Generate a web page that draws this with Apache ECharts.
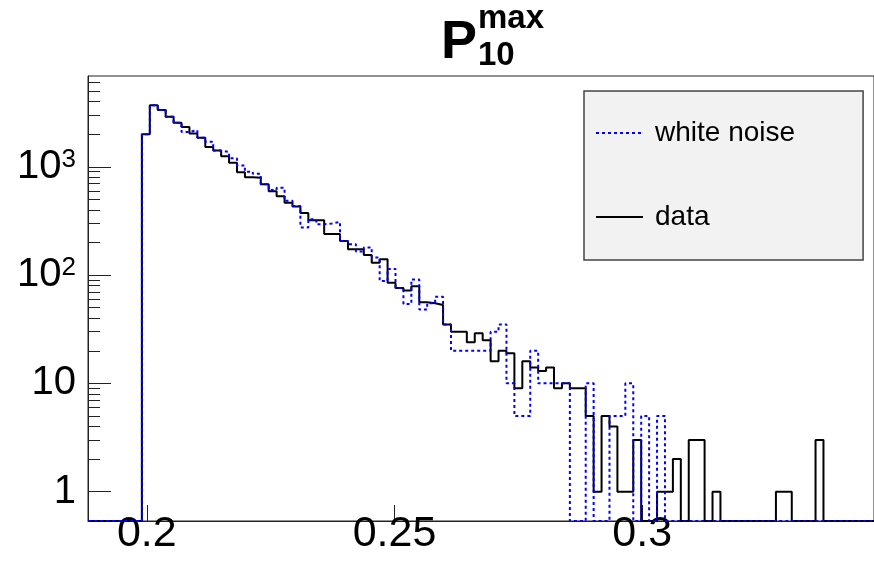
<!DOCTYPE html>
<html><head><meta charset="utf-8">
<script src="https://cdn.jsdelivr.net/npm/echarts@6/dist/echarts.min.js"></script>
<style>html,body{margin:0;padding:0;background:#fff}#c{width:874px;height:565px}</style>
</head><body><div id="c"></div>
<script>
// ---- data ----
const binStart = 0.199;
const binWidth = 0.0016;
const seriesNames = ['white noise', 'data'];
const dataCounts = [
  2000, 3700, 3350, 2900, 2550, 2330, 2030, 1850, 1520, 1410,
  1250, 1090, 890, 800, 790, 690, 595, 535, 465, 430,
  375, 320, 320, 240, 240, 206, 173, 173, 153, 130,
  140, 85, 76, 72, 79, 56, 55, 53, 35, 30,
  30, 24, 29, 25, 16, 20, 19, 9, 16, 14,
  13, 14, 9, 10, 9, 9, 5, 1, 5, 4,
  1, 1, 3, 0, 0, 1, 1, 2, 0, 3,
  3, 0, 1, 0, 0, 0, 0, 0, 0, 0,
  1, 1, 0, 0, 0, 3, 0, 0, 0, 0,
  0, 0, 0
];
const noiseCounts = [
  2000, 3700, 3350, 2900, 2550, 2100, 2180, 1850, 1700, 1410,
  1370, 1200, 1030, 900, 860, 690, 610, 640, 485, 435,
  275, 328, 295, 300, 310, 206, 193, 165, 180, 145,
  88, 114, 76, 54, 91, 48, 55, 63, 35, 20,
  20, 20, 20, 20, 30, 35, 10, 5, 5, 20,
  10, 10, 10, 10, 0, 0, 10, 0, 0, 5,
  5, 10, 0, 5, 0, 5, 0, 0, 0, 0,
  0, 0, 0, 0, 0, 0, 0, 0, 0, 0,
  0, 0, 0, 0, 0, 0, 0, 0, 0, 0,
  0, 0, 0
];
const xTicks = [0.2, 0.25, 0.3];
const yTicks = [1, 10, 100, 1000];
const yMinorTicks = [2,3,4,5,6,7,8,9,20,30,40,50,60,70,80,90,200,300,400,500,600,700,800,900,2000,3000,4000,5000,6000];
const xMin = 0.18812, xMax = 0.3468;
const yMin = 0.536, yMax = 6890;

const FONT = '"Liberation Sans", Arial, Helvetica, sans-serif';

function steps(counts) {
  const pts = [[xMin, yMin]];
  for (let i = 0; i < counts.length; i++) {
    pts.push([binStart + i * binWidth, Math.max(counts[i], yMin)]);
  }
  pts.push([binStart + counts.length * binWidth, yMin]);
  pts.push([xMax, yMin]);
  return pts;
}

const chart = echarts.init(document.getElementById('c'), null, {renderer: 'canvas'});
chart.setOption({
  animation: false,
  backgroundColor: '#fff',
  grid: {left: 88, right: -3, top: 76, bottom: 44, show: true, borderColor: '#222', borderWidth: 1, backgroundColor: 'transparent'},
  xAxis: {
    type: 'value', min: xMin, max: xMax,
    axisLine: {show: true, onZero: false, lineStyle: {color: '#222', width: 1}},
    axisTick: {show: true, inside: true, length: 16, customValues: xTicks, lineStyle: {color: '#222', width: 1}},
    axisLabel: {customValues: xTicks, fontSize: 43, color: '#000', fontFamily: FONT, margin: -8,
      formatter: v => String(+v.toFixed(3))},
    splitLine: {show: false}
  },
  yAxis: [{
    type: 'log', logBase: 10, min: yMin, max: yMax,
    axisLine: {show: true, lineStyle: {color: '#222', width: 1}},
    axisTick: {show: true, inside: true, length: 23, customValues: yTicks, lineStyle: {color: '#222', width: 1}},
    axisLabel: {customValues: yTicks, color: '#000', fontFamily: FONT, margin: 12,
      formatter: v => {
        const e = Math.round(Math.log10(v));
        if (e <= 1) return '{n|' + Math.round(v) + '}';
        return '{n|10}{s|' + e + '}';
      },
      rich: {
        n: {fontSize: 40, fontFamily: FONT, color: '#000'},
        s: {fontSize: 26, fontFamily: FONT, color: '#000', verticalAlign: 'top', padding: [0, 0, 14, 0]}
      }
    },
    splitLine: {show: false}
  }, {
    type: 'log', logBase: 10, min: yMin, max: yMax, position: 'left',
    axisLine: {show: false},
    axisTick: {show: true, inside: true, length: 12, customValues: yMinorTicks, lineStyle: {color: '#222', width: 1}},
    axisLabel: {show: false},
    splitLine: {show: false}
  }],
  legend: {
    orient: 'vertical', left: 584, top: 91,
    padding: [28, 68, 29, 11],
    itemWidth: 47, itemHeight: 14, itemGap: 56,
    backgroundColor: '#f2f2f2', borderColor: '#444', borderWidth: 1.5, borderRadius: 0,
    itemStyle: {color: 'rgba(0,0,0,0)', borderWidth: 0, opacity: 0},
    textStyle: {fontSize: 28, color: '#000', fontFamily: FONT, padding: [0, 0, 0, 7]},
    data: seriesNames
  },
  graphic: [
    {type: 'text', left: 441, top: 16, style: {text: 'P', font: 'bold 54px ' + FONT, fill: '#000'}},
    {type: 'text', left: 478, top: 2, style: {text: 'max', font: 'bold 33px ' + FONT, fill: '#000'}},
    {type: 'text', left: 478, top: 39, style: {text: '10', font: 'bold 33px ' + FONT, fill: '#000'}}
  ],
  series: [{
    name: seriesNames[1], type: 'line', step: 'end', symbol: 'none', z: 2,
    data: steps(dataCounts),
    lineStyle: {color: '#000', width: 2}, itemStyle: {color: '#000'}
  }, {
    name: seriesNames[0], type: 'line', step: 'end', symbol: 'none', z: 3,
    data: steps(noiseCounts),
    lineStyle: {color: '#0000ff', width: 2, type: [3, 3]}, itemStyle: {color: '#0000ff'}
  }]
});
</script></body></html>
